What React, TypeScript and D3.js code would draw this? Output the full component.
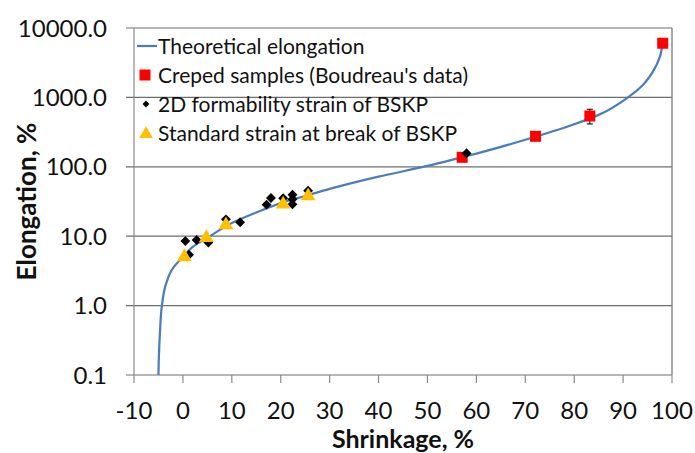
import React, { useEffect, useRef } from 'react';
import * as d3 from 'd3';

// theoretical elongation curve
const theoryShrink = [-5.0, -4.9, -4.7, -4.3, -3.5, -2.0, 0, 2, 5.5, 10, 15, 20, 25, 30, 40, 50, 57, 60, 70, 80, 85, 91, 94, 96, 97.5, 98];
const theoryElong = [0.1, 0.2, 0.4, 1.0, 2.0, 3.5, 5.0, 7.0, 10, 15.5, 22, 30, 38, 48, 72, 103, 137, 155, 245, 410, 560, 1000, 1500, 2300, 3800, 5600];

// creped samples (Boudreau's data)
const crepedShrink = [57.1, 72.1, 83.2, 98.1];
const crepedElong = [137, 275, 540, 6030];
const crepedErrLow = [137, 275, 414, 6030];
const crepedErrHigh = [137, 275, 675, 6030];

// 2D formability strain of BSKP
const formShrink = [0.5, 2.8, 5.2, 1.25, 8.8, 11.7, 17.1, 18.0, 20.5, 22.4, 22.4, 22.4, 25.6, 58.0];
const formElong = [8.5, 8.8, 8.1, 5.4, 17.5, 15.9, 28.5, 35.5, 35.2, 39.6, 34, 28.8, 45.3, 157];

// standard strain at break of BSKP
const breakShrink = [0.3, 4.8, 8.8, 20.5, 25.6];
const breakElong = [5.2, 9.8, 15, 29.8, 39.3];

const xTicks = [-10, 0, 10, 20, 30, 40, 50, 60, 70, 80, 90, 100];
const yTicks = [0.1, 1, 10, 100, 1000, 10000];

const legendLabels = [
  'Theoretical elongation',
  "Creped samples (Boudreau's data)",
  '2D formability strain of BSKP',
  'Standard strain at break of BSKP'
];

const font = 'Lato, "Open Sans", sans-serif';

function App() {
  const ref = useRef<SVGSVGElement>(null);

  useEffect(function () {
    if (!ref.current) return;
    const svg = d3.select(ref.current);
    svg.selectAll('*').remove();

    const left = 134, right = 672, top = 28, bottom = 375;

    const x = d3.scaleLinear().domain([-10, 100]).range([left, right]);
    const y = d3.scaleLog().domain([0.1, 10000]).range([bottom, top]);

    // gridlines + y ticks
    svg.append('g').selectAll('line')
      .data(yTicks)
      .join('line')
      .attr('x1', left - 8).attr('x2', right)
      .attr('y1', d => y(d)).attr('y2', d => y(d))
      .attr('stroke', '#6e6e6e').attr('stroke-width', 1.2);

    // right border
    svg.append('line')
      .attr('x1', right).attr('x2', right).attr('y1', top).attr('y2', bottom)
      .attr('stroke', '#6e6e6e').attr('stroke-width', 1.2);

    // y axis line
    svg.append('line')
      .attr('x1', left).attr('x2', left).attr('y1', top).attr('y2', bottom)
      .attr('stroke', '#8a8a8a').attr('stroke-width', 1.2);

    // x ticks
    svg.append('g').selectAll('line')
      .data(xTicks)
      .join('line')
      .attr('x1', d => x(d)).attr('x2', d => x(d))
      .attr('y1', bottom).attr('y2', bottom + 8)
      .attr('stroke', '#8a8a8a').attr('stroke-width', 1.2);

    svg.append('g').selectAll('text')
      .data(xTicks)
      .join('text')
      .attr('x', d => x(d)).attr('y', 419)
      .attr('text-anchor', 'middle')
      .attr('font-family', font).attr('font-size', 24)
      .attr('fill', '#111')
      .text(d => String(d));

    svg.append('g').selectAll('text')
      .data(yTicks)
      .join('text')
      .attr('x', 107).attr('y', d => y(d))
      .attr('dy', '0.36em')
      .attr('text-anchor', 'end')
      .attr('font-family', font).attr('font-size', 24)
      .attr('fill', '#111')
      .text(d => d.toFixed(1));

    // axis titles
    svg.append('text')
      .attr('x', (left + right) / 2).attr('y', 448)
      .attr('text-anchor', 'middle')
      .attr('font-family', font).attr('font-size', 25).attr('font-weight', 'bold')
      .attr('fill', '#111')
      .text('Shrinkage, %');

    svg.append('text')
      .attr('transform', `translate(36, ${(top + bottom) / 2}) rotate(-90)`)
      .attr('text-anchor', 'middle')
      .attr('font-family', font).attr('font-size', 26).attr('font-weight', 'bold')
      .attr('fill', '#111')
      .text('Elongation, %');

    // theoretical line
    const pts = theoryShrink.map((s, i) => [s, theoryElong[i]] as [number, number]);
    const line = d3.line<[number, number]>()
      .x(d => x(d[0])).y(d => y(d[1]))
      .curve(d3.curveMonotoneY);
    svg.append('path')
      .datum(pts)
      .attr('d', line)
      .attr('fill', 'none')
      .attr('stroke', '#4a7ebb').attr('stroke-width', 2.25);

    // error bars
    const err = svg.append('g').attr('stroke', '#000').attr('stroke-width', 1);
    crepedShrink.forEach((s, i) => {
      if (crepedErrHigh[i] === crepedErrLow[i]) return;
      err.append('line')
        .attr('x1', x(s)).attr('x2', x(s))
        .attr('y1', y(crepedErrLow[i])).attr('y2', y(crepedErrHigh[i]));
      [crepedErrLow[i], crepedErrHigh[i]].forEach(v => {
        err.append('line')
          .attr('x1', x(s) - 3).attr('x2', x(s) + 3)
          .attr('y1', y(v)).attr('y2', y(v));
      });
    });

    const square = d3.symbol().type(d3.symbolSquare).size(121);
    const diamond = d3.symbol().type(d3.symbolDiamond2).size(62);
    const triangle = d3.symbol().type(d3.symbolTriangle).size(95);

    svg.append('g').selectAll('path')
      .data(crepedShrink.map((s, i) => [s, crepedElong[i]]))
      .join('path')
      .attr('transform', d => `translate(${x(d[0])},${y(d[1])})`)
      .attr('d', square as any)
      .attr('fill', '#ff0000');

    svg.append('g').selectAll('path')
      .data(formShrink.map((s, i) => [s, formElong[i]]))
      .join('path')
      .attr('transform', d => `translate(${x(d[0])},${y(d[1])})`)
      .attr('d', diamond as any)
      .attr('fill', '#000');

    svg.append('g').selectAll('path')
      .data(breakShrink.map((s, i) => [s, breakElong[i]]))
      .join('path')
      .attr('transform', d => `translate(${x(d[0])},${y(d[1]) + 1})`)
      .attr('d', triangle as any)
      .attr('fill', '#ffc000');

    // legend
    const lg = svg.append('g');
    const rowY = [46, 75, 104, 133];
    lg.append('line')
      .attr('x1', 137).attr('x2', 157).attr('y1', rowY[0]).attr('y2', rowY[0])
      .attr('stroke', '#4a7ebb').attr('stroke-width', 2.25);
    lg.append('path')
      .attr('transform', `translate(145,${rowY[1]})`)
      .attr('d', square as any).attr('fill', '#ff0000');
    lg.append('path')
      .attr('transform', `translate(146,${rowY[2]})`)
      .attr('d', d3.symbol().type(d3.symbolDiamond2).size(30) as any).attr('fill', '#000');
    lg.append('path')
      .attr('transform', `translate(146,${rowY[3] + 1})`)
      .attr('d', d3.symbol().type(d3.symbolTriangle).size(80) as any).attr('fill', '#ffc000');
    lg.selectAll('text')
      .data(legendLabels)
      .join('text')
      .attr('x', 158).attr('y', (d, i) => rowY[i])
      .attr('dy', '0.36em')
      .attr('font-family', font).attr('font-size', 21)
      .attr('fill', '#111')
      .text(d => d);
  });

  return (
    <svg
      ref={ref}
      width={695}
      height={453}
      style={{ position: 'absolute', left: 0, top: 0, background: '#fff' }}
    />
  );
}

export default App;
